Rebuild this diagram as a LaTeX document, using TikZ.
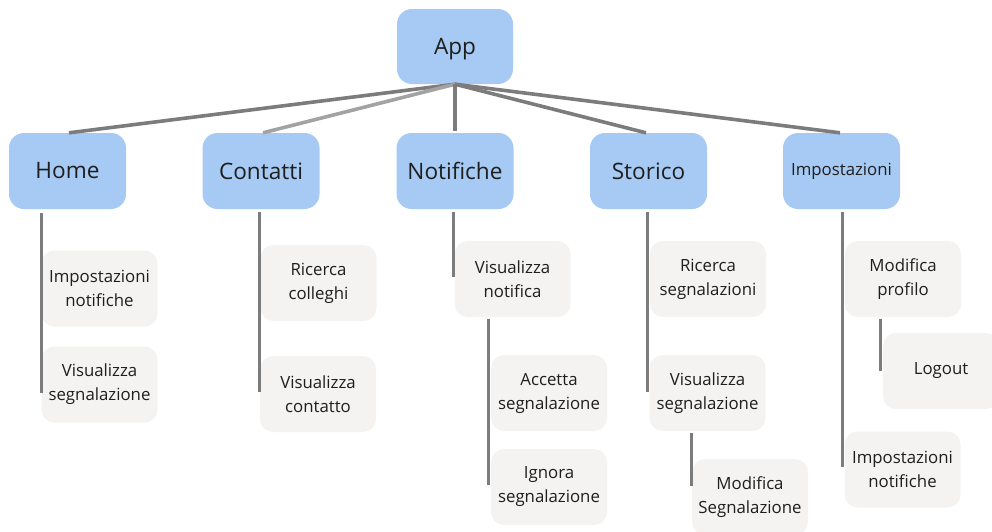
\documentclass[tikz,border=0pt]{standalone}
\usepackage{fontspec}
\setmainfont{Open Sans}
\usetikzlibrary{calc}
\definecolor{parentblue}{HTML}{A6CAF3}
\definecolor{childgray}{HTML}{F4F3F2}
\definecolor{linkdark}{HTML}{7C7C7C}
\definecolor{linklight}{HTML}{A3A3A3}
\definecolor{textdark}{HTML}{1E1E1E}
\tikzset{
  parentbox/.style={fill=parentblue, rounded corners=15pt, minimum width=117pt,
    minimum height=76pt, inner sep=0pt, text=textdark, font=\fontsize{22.6}{27}\selectfont},
  childbox/.style={fill=childgray, rounded corners=13pt, minimum width=116pt,
    minimum height=76pt, inner sep=0pt, align=center, text=textdark,
    font=\fontsize{16.8}{24}\selectfont},
  toplink/.style={draw=linkdark, line width=3.6pt},
  toplinklight/.style={draw=linklight, line width=3.6pt},
  sublink/.style={draw=linkdark, line width=3pt},
}
\begin{document}
\begin{tikzpicture}[x=1pt,y=-1pt]
\useasboundingbox (0,0) rectangle (992,531);

% root and first-level sections
\node[parentbox, minimum width=116pt, minimum height=75pt, text depth=0pt] (app) at (455,46.5) {App};
\node[parentbox] (home) at (67.5,171) {\raisebox{-1pt}{Home}};
\node[parentbox] (cont) at (261,171) {\raisebox{-1pt}{Contatti}};
\node[parentbox] (noti) at (455,171) {Notifiche};
\node[parentbox] (stor) at (648.5,171) {\raisebox{-1pt}{Storico}};
\node[parentbox, font=\fontsize{16.8}{20}\selectfont] (impo) at (841.5,171) {Impostazioni};

% Home
\node[childbox] (hin) at (99.5,288.5) {Impostazioni\\notifiche};
\node[childbox] (hvs) at (99.5,384.5) {Visualizza\\segnalazione};
% Contatti
\node[childbox] (crc) at (318.5,283) {Ricerca\\colleghi};
\node[childbox] (cvc) at (318,394) {Visualizza\\contatto};
% Notifiche
\node[childbox] (nvn) at (512.5,279) {Visualizza\\notifica};
\node[childbox] (nas) at (549,393) {Accetta\\segnalazione};
\node[childbox] (nis) at (549,487) {Ignora\\segnalazione};
% Storico
\node[childbox] (srs) at (708,279) {Ricerca\\segnalazioni};
\node[childbox] (svs) at (707.5,393) {Visualizza\\segnalazione};
\node[childbox] (sms) at (750,497) {Modifica\\Segnalazione};
% Impostazioni
\node[childbox] (imp) at (903,279) {Modifica\\profilo};
\node[childbox] (ilo) at (941,371) {Logout};
\node[childbox] (iin) at (902.5,469.5) {Impostazioni\\notifiche};

% links from the root
\draw[toplink] (app.south) -- ([xshift=1.5pt]home.north);
\draw[toplinklight] (app.south) -- ([xshift=2pt]cont.north);
\draw[toplink] (app.south) -- ([yshift=2pt]noti.north);
\draw[toplink] (app.south) -- ([xshift=-2.5pt]stor.north);
\draw[toplink] (app.south) -- ([xshift=-1.5pt]impo.north);

% section trunks
\draw[sublink] ($(home.south -| hvs.west)+(0,4)$) -- ($(hvs.west)+(0,8.5)$);
\draw[sublink] ($(cont.south -| cvc.west)+(-0.5,3)$) -- ($(cvc.west)+(-0.5,-2)$);
\draw[sublink] ($(noti.south -| nvn.west)+(-0.5,3)$) -- ($(nvn.west)+(-0.5,-2)$);
\draw[sublink] ($(nvn.south -| nis.west)+(-2,2)$) -- ($(nis.west)+(-2,-2)$);
\draw[sublink] ($(stor.south -| svs.west)+(-1.5,3)$) -- ($(svs.west)+(-1.5,-1)$);
\draw[sublink] ($(svs.south -| sms.west)+(0,2)$) -- ($(sms.west)+(0,-11)$);
\draw[sublink] ($(impo.south -| iin.west)+(-2,3)$) -- ($(iin.west)+(-2,-2.5)$);
\draw[sublink] ($(imp.south -| ilo.west)+(-2,2)$) -- ($(ilo.west)+(-2,0)$);
\end{tikzpicture}
\end{document}
